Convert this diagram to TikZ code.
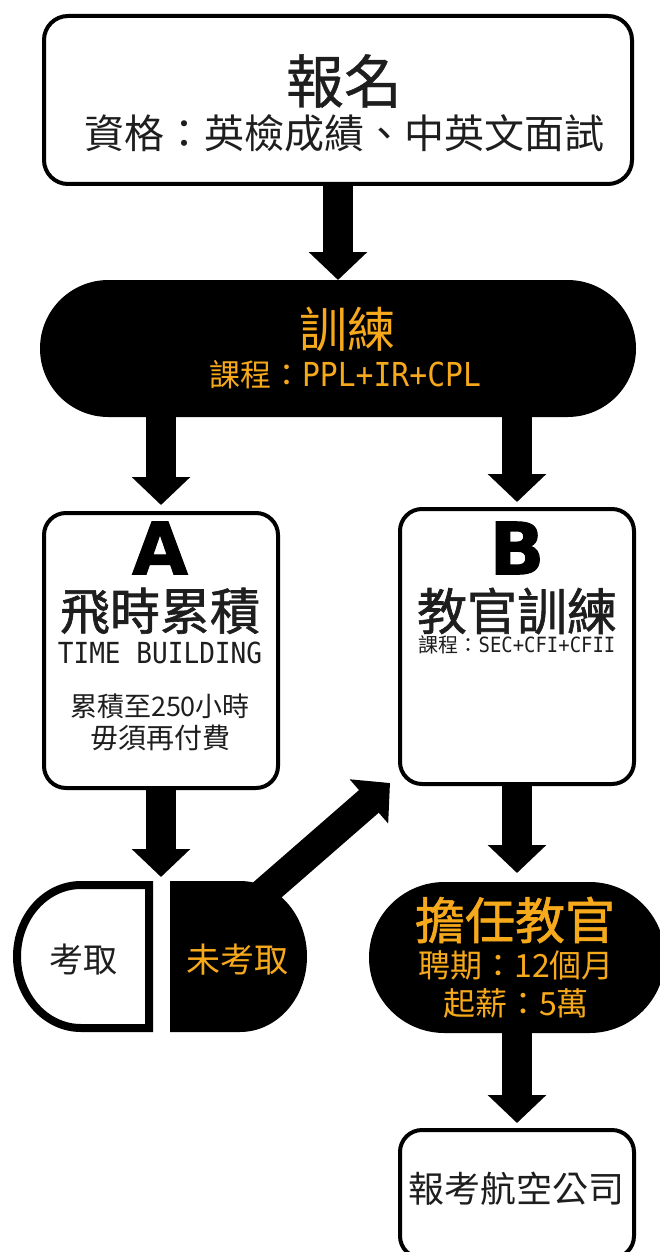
\documentclass[tikz,border=0pt]{standalone}
\usepackage{fontspec}
\setmainfont{Noto Sans CJK TC}
\newfontfamily\medfont[FakeBold=1.2]{Noto Sans CJK TC}
\newfontfamily\semifont[FakeBold=0.6]{Noto Sans CJK TC}
\newfontfamily\monof[FakeStretch=0.9]{DejaVu Sans Mono}
\newfontfamily\heavyfont[FakeBold=1.5]{DejaVu Sans Bold}
\usetikzlibrary{arrows.meta,shapes.misc}
\definecolor{gold}{RGB}{247,169,28}
\definecolor{ink}{RGB}{30,30,30}
\newcommand\fsz[1]{\fontsize{#1}{#1}\selectfont}
\tikzset{
  bigarrow/.style={line width=30pt,-{Triangle[length=28pt,width=57pt]}},
  boxshape/.style={draw,line width=4pt,rounded corners=22pt,minimum width=234pt,inner sep=0pt,outer sep=0pt},
  pill/.style={rounded rectangle,fill=black,inner sep=0pt,outer sep=0pt},
  area/.style={inner sep=0pt,outer sep=0pt},
  txt/.style={inner sep=0pt,outer sep=0pt,align=center,text=ink},
  gtxt/.style={inner sep=0pt,outer sep=0pt,align=center,text=gold},
}
\begin{document}
\begin{tikzpicture}[x=1pt,y=-1pt]
\useasboundingbox (0,0) rectangle (660,1252);
\clip (0,0) rectangle (660,1252);
% shapes
\node[boxshape,minimum width=588pt,minimum height=168pt,rounded corners=24pt] (reg) at (338,100) {};
\node[pill,minimum width=596pt,minimum height=137pt] (train) at (338,348.5) {};
\node[boxshape,minimum height=275pt] (A) at (161,650.5) {};
\node[boxshape,minimum height=275pt] (B) at (517,646.5) {};
\node[area,minimum width=132pt,minimum height=143pt] (pass) at (83,956.5) {};
\draw[line width=8pt,fill=white] (pass.north east) -- ++(-68,0)
   arc[start angle=90,end angle=270,x radius=64pt,y radius=71.5pt] -- (pass.south east) -- cycle;
\node[area,minimum width=137pt,minimum height=151pt] (fail) at (238.5,956.5) {};
\fill (fail.north west) -- ++(70,0)
   arc[start angle=90,end angle=-90,x radius=67pt,y radius=75.5pt] -- (fail.south west) -- cycle;
\node[pill,minimum width=296pt,minimum height=151pt] (inst) at (517,957.5) {};
\node[boxshape,minimum height=128pt] (air) at (517,1194) {};
% connectors
\coordinate (gap) at (161,881);
\coordinate (dstart) at (250,905);
\coordinate (dend) at (390,783);
\draw[bigarrow] (reg.south) -- (train.north);
\draw[bigarrow,shorten >=8pt] (A.north |- train.south) -- (A.north);
\draw[bigarrow,shorten >=7pt] (B.north |- train.south) -- (B.north);
\draw[bigarrow,shorten >=4pt] (A.south) -- (gap);
\draw[bigarrow] (dstart) -- (dend);
\draw[bigarrow,shorten >=9pt] (B.south) -- (inst.north);
\draw[bigarrow,shorten >=7pt] (inst.south) -- (air.north);
% texts
\node[txt,font=\semifont\fsz{58}] (t1) at (344,81) {報名};
\node[txt,font=\fsz{40}] (t2) at (344,133) {資格：英檢成績、中英文面試};
\node[gtxt,font=\fsz{48}] (t3) at (347,329) {訓練};
\node[gtxt,font=\fsz{31}] (t4) at (345,375) {課程：{\monof\fsz{33}PPL+IR+CPL}};
\node[txt,font=\heavyfont\fsz{72},text=black] (la) at (160,548) {A};
\node[txt,font=\medfont\fsz{50}] (t5) at (160,611) {飛時累積};
\node[txt,font=\monof\fsz{29}] (t6) at (160,653) {TIME BUILDING};
\node[txt,font=\fsz{27}] (t7) at (160,706) {累積至250小時};
\node[txt,font=\fsz{28}] (t8) at (160,738) {毋須再付費};
\node[txt,font=\heavyfont\fsz{72},text=black] (lb) at (517,548) {B};
\node[txt,font=\medfont\fsz{50}] (t9) at (517,611) {教官訓練};
\node[txt,font=\fsz{20}] (t10) at (517,645) {課程：{\monof\fsz{21}SEC+CFI+CFII}};
\node[txt,font=\fsz{34}] (t11) at (83,960) {考取};
\node[gtxt,font=\fsz{34}] (t12) at (237,960) {未考取};
\node[gtxt,font=\medfont\fsz{50}] (t13) at (515,920) {擔任教官};
\node[gtxt,font=\fsz{32}] (t14) at (516,965) {聘期：12個月};
\node[gtxt,font=\fsz{32}] (t15) at (516,1003) {起薪：5萬};
\node[txt,font=\fsz{36}] (t16) at (516,1189) {報考航空公司};
\end{tikzpicture}
\end{document}
